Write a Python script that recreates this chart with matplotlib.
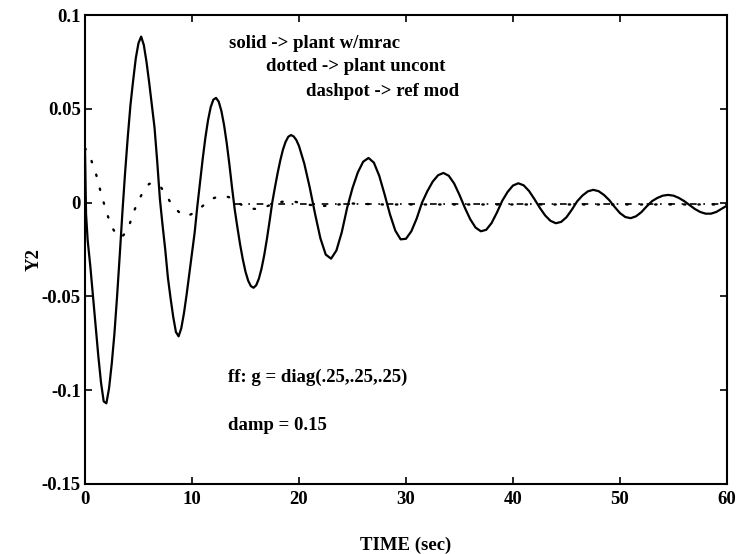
import numpy as np
import matplotlib
matplotlib.use("Agg")
import matplotlib.pyplot as plt

# plant with MRAC (solid)
t_mrac = [0, 0.1] + list(np.arange(0.25, 20.01, 0.25)) + list(np.arange(20.5, 60.01, 0.5))
y_mrac = [
    0.029, -0.006,
    # 0.25 .. 20.0 step 0.25
    -0.020, -0.034, -0.050, -0.066, -0.082, -0.096, -0.106, -0.107,
    -0.099, -0.086, -0.070, -0.050, -0.028, -0.005, 0.016, 0.035,
    0.052, 0.065, 0.077, 0.085, 0.0885, 0.084, 0.075, 0.064,
    0.052, 0.040, 0.022, 0.002, -0.012, -0.025, -0.040, -0.051,
    -0.061, -0.069, -0.0713, -0.067, -0.059, -0.049, -0.038, -0.027,
    -0.016, -0.002, 0.0106, 0.0232, 0.0345, 0.0439, 0.0509, 0.0549,
    0.0558, 0.0538, 0.0488, 0.0413, 0.0316, 0.0202, 0.0077, -0.0039,
    -0.0134, -0.0224, -0.0302, -0.0368, -0.0416, -0.0445, -0.0454, -0.0441,
    -0.0406, -0.0352, -0.0281, -0.0195, -0.0100, 0.0, 0.0080, 0.0156,
    0.0224, 0.0282, 0.0324, 0.0351, 0.0360, 0.0353, 0.0334, 0.0302,
    # 20.5 .. 60.0 step 0.5
    0.0207, 0.0082, -0.0059, -0.0190, -0.0277, -0.0299, -0.0255, -0.0158,
    -0.0028, 0.0077, 0.0161, 0.0218, 0.0238, 0.0213, 0.0143, 0.0044,
    -0.0062, -0.0149, -0.0196, -0.0193, -0.0153, -0.0085, 0.0, 0.0061,
    0.0112, 0.0146, 0.0158, 0.0143, 0.0102, 0.0041, -0.0027, -0.0088,
    -0.0133, -0.0153, -0.0145, -0.0109, -0.0053, 0.0010, 0.0057, 0.0091,
    0.0103, 0.0092, 0.0062, 0.0019, -0.0027, -0.0068, -0.0097, -0.0110,
    -0.0103, -0.0078, -0.0038, 0.0007, 0.0038, 0.0060, 0.0068, 0.0061,
    0.0041, 0.0013, -0.0023, -0.0056, -0.0077, -0.0083, -0.0073, -0.0051,
    -0.0020, 0.0008, 0.0025, 0.0037, 0.0041, 0.0037, 0.0025, 0.0008,
    -0.0013, -0.0034, -0.0050, -0.0059, -0.0059, -0.0050, -0.0033, -0.0016,
]

# uncontrolled plant (dotted)
t_unc = [0, 0.5, 1.0, 1.5, 2.0, 2.5, 3.0, 3.4, 3.8, 4.2, 4.6, 5.0, 5.5, 6.0,
         6.5, 7.0, 7.5, 8.0, 8.5, 9.0, 9.5, 10.0, 10.5, 11.0, 11.5, 12.0,
         12.5, 13.0, 13.5, 14.0, 14.5, 15.0, 15.5, 16.0, 16.5, 17.0, 17.5,
         18.0, 18.5, 19.0, 19.5, 20.0, 21, 22, 23, 24, 25, 26, 27, 28, 30,
         35, 40, 45, 50, 55, 60]
y_unc = [0.029, 0.024, 0.016, 0.005, -0.005, -0.013, -0.0175, -0.0186,
         -0.016, -0.011, -0.0043, 0.001, 0.0065, 0.0100, 0.0102, 0.0090,
         0.0048, 0.0, -0.0035, -0.0062, -0.0073, -0.0060, -0.0043, -0.0018,
         0.0005, 0.0023, 0.0033, 0.0036, 0.0028, 0.0012, -0.0008, -0.0022,
         -0.0032, -0.0034, -0.0030, -0.0020, -0.0008, 0.0, 0.0005, 0.0007,
         0.0006, 0.0, -0.0012, -0.0019, -0.0015, -0.0008, -0.0005, -0.0007,
         -0.0009, -0.0010, -0.0010, -0.0010, -0.0010, -0.0010, -0.0010,
         -0.0010, -0.0010]

# reference model (dash-dot), only visible on the right part
t_ref = [14, 20, 30, 40, 50, 60]
y_ref = [-0.001, -0.001, -0.001, -0.001, -0.001, -0.001]

x_ticks = [0, 10, 20, 30, 40, 50, 60]
y_ticks = [-0.15, -0.1, -0.05, 0, 0.05, 0.1]
y_tick_labels = ['-0.15', '-0.1', '-0.05', '0', '0.05', '0.1']

plt.rcParams['font.family'] = ['Liberation Serif', 'DejaVu Serif']

fig = plt.figure(figsize=(7.37, 5.54), dpi=100)
ax = fig.add_axes([0.1153, 0.1264, 0.8711, 0.8465])

ax.plot(t_mrac, y_mrac, color='black', lw=1.6, solid_capstyle='round',
        solid_joinstyle='round')
ax.plot(t_unc, y_unc, color='black', lw=1.7, linestyle=(0, (0.6, 5.5)),
        dash_capstyle='round')
ax.plot(t_ref, y_ref, color='black', lw=1.2, linestyle=(0, (4, 4, 1, 4)))

ax.set_xlim(0, 60)
ax.set_ylim(-0.15, 0.1)
ax.set_xticks(x_ticks)
ax.set_xticklabels([str(v) for v in x_ticks])
ax.set_yticks(y_ticks)
ax.set_yticklabels(y_tick_labels)
ax.tick_params(direction='in', length=5, width=1.2, top=True, right=True,
               labelsize=13.5, pad=3)
ax.tick_params(axis='x', pad=5)
for lbl in ax.get_xticklabels() + ax.get_yticklabels():
    lbl.set_fontweight('bold')
for s in ax.spines.values():
    s.set_linewidth(1.5)

ax.set_xlabel('TIME (sec)', fontsize=13.5, fontweight='bold')
ax.xaxis.set_label_coords(0.5, -0.112)
ax.set_ylabel('Y2', fontsize=13.5, fontweight='bold')
ax.yaxis.set_label_coords(-0.066, 0.478)

txt = dict(fontsize=13.5, fontweight='bold', va='center', ha='left')
ax.text(13.5, 0.085, 'solid -> plant w/mrac', **txt)
ax.text(16.9, 0.0723, 'dotted -> plant uncont', **txt)
ax.text(20.65, 0.059, 'dashpot -> ref mod', **txt)
ax.text(13.4, -0.093, 'ff: g = diag(.25,.25,.25)', **txt)
ax.text(13.4, -0.119, 'damp = 0.15', **txt)

fig.savefig('out.png', dpi=100)
